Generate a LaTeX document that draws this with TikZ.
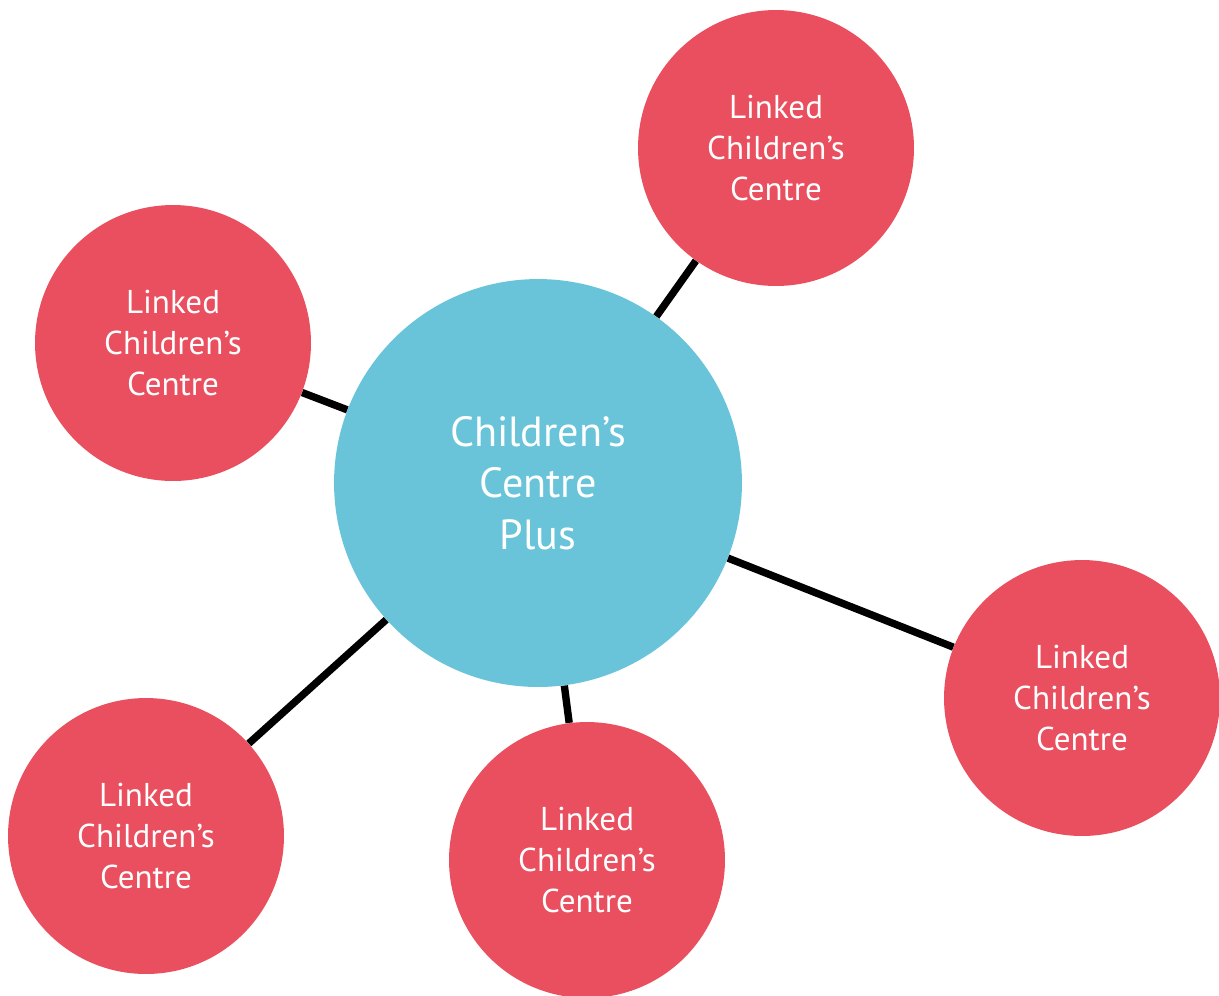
\documentclass[tikz,border=0pt]{standalone}
\usepackage{fontspec}
\setmainfont{PT Sans}
\definecolor{hubblue}{HTML}{69C4DA}
\definecolor{linkred}{HTML}{E94F5E}
\tikzset{
  hub/.style={circle,fill=hubblue,minimum size=8.16cm,inner sep=0pt,text=white,
    align=center,font=\fontsize{24}{29.3}\selectfont},
  linked/.style={circle,fill=linkred,minimum size=5.52cm,inner sep=0pt,text=white,
    align=center,font=\fontsize{18.8}{23.3}\selectfont},
  spoke/.style={line width=4.2pt}
}
\begin{document}
\begin{tikzpicture}[x=0.02cm,y=-0.02cm]
\useasboundingbox (0,0) rectangle (1219,995);
\node[hub] (plus) at (538,483) {Children’s\\Centre\\Plus};
\node[linked] (topright) at (776,148) {Linked\\Children’s\\Centre};
\node[linked] (left) at (173,343) {Linked\\Children’s\\Centre};
\node[linked] (right) at (1082,698) {Linked\\Children’s\\Centre};
\node[linked] (bottomleft) at (146,836) {Linked\\Children’s\\Centre};
\node[linked] (bottom) at (587,860) {Linked\\Children’s\\Centre};
\draw[spoke] (plus) -- (topright);
\draw[spoke] (plus) -- (left);
\draw[spoke] (plus) -- (right);
\draw[spoke] (plus) -- (bottomleft);
\draw[spoke] (plus) -- (bottom);
\end{tikzpicture}
\end{document}
